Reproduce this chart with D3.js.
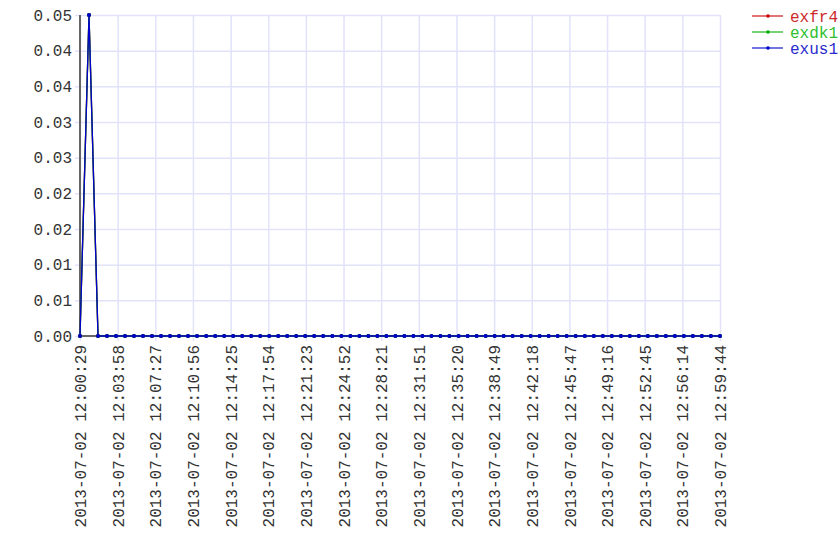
<!DOCTYPE html>
<html>
<head>
<meta charset="utf-8">
<script src="https://cdn.jsdelivr.net/npm/d3@7"></script>
<style>
  html, body { margin: 0; padding: 0; background: #fff; }
  svg { display: block; }
  text { font-family: "Liberation Mono", "Courier New", monospace; font-size: 16px; }
</style>
</head>
<body>
<svg id="chart" width="840" height="560"></svg>
<script>
const times = [
  "2013-07-02 12:00:29","2013-07-02 12:01:19","2013-07-02 12:02:09","2013-07-02 12:02:59",
  "2013-07-02 12:03:49","2013-07-02 12:04:39","2013-07-02 12:05:29","2013-07-02 12:06:19",
  "2013-07-02 12:07:09","2013-07-02 12:07:59","2013-07-02 12:08:49","2013-07-02 12:09:39",
  "2013-07-02 12:10:29","2013-07-02 12:11:19","2013-07-02 12:12:10","2013-07-02 12:13:00",
  "2013-07-02 12:13:50","2013-07-02 12:14:40","2013-07-02 12:15:30","2013-07-02 12:16:20",
  "2013-07-02 12:17:10","2013-07-02 12:18:00","2013-07-02 12:18:50","2013-07-02 12:19:40",
  "2013-07-02 12:20:30","2013-07-02 12:21:20","2013-07-02 12:22:10","2013-07-02 12:23:00",
  "2013-07-02 12:23:51","2013-07-02 12:24:41","2013-07-02 12:25:31","2013-07-02 12:26:21",
  "2013-07-02 12:27:11","2013-07-02 12:28:01","2013-07-02 12:28:51","2013-07-02 12:29:41",
  "2013-07-02 12:30:31","2013-07-02 12:31:21","2013-07-02 12:32:11","2013-07-02 12:33:01",
  "2013-07-02 12:33:51","2013-07-02 12:34:41","2013-07-02 12:35:32","2013-07-02 12:36:22",
  "2013-07-02 12:37:12","2013-07-02 12:38:02","2013-07-02 12:38:52","2013-07-02 12:39:42",
  "2013-07-02 12:40:32","2013-07-02 12:41:22","2013-07-02 12:42:12","2013-07-02 12:43:02",
  "2013-07-02 12:43:52","2013-07-02 12:44:42","2013-07-02 12:45:32","2013-07-02 12:46:22",
  "2013-07-02 12:47:13","2013-07-02 12:48:03","2013-07-02 12:48:53","2013-07-02 12:49:43",
  "2013-07-02 12:50:33","2013-07-02 12:51:23","2013-07-02 12:52:13","2013-07-02 12:53:03",
  "2013-07-02 12:53:53","2013-07-02 12:54:43","2013-07-02 12:55:33","2013-07-02 12:56:23",
  "2013-07-02 12:57:13","2013-07-02 12:58:03","2013-07-02 12:58:53","2013-07-02 12:59:44"
];

const exfr4 = [0,0.05,0,0,0,0,0,0,0,0,0,0,0,0,0,0,0,0,0,0,0,0,0,0,0,0,0,0,0,0,0,0,0,0,0,0,
               0,0,0,0,0,0,0,0,0,0,0,0,0,0,0,0,0,0,0,0,0,0,0,0,0,0,0,0,0,0,0,0,0,0,0,0];
const exdk1 = [0,0.05,0,0,0,0,0,0,0,0,0,0,0,0,0,0,0,0,0,0,0,0,0,0,0,0,0,0,0,0,0,0,0,0,0,0,
               0,0,0,0,0,0,0,0,0,0,0,0,0,0,0,0,0,0,0,0,0,0,0,0,0,0,0,0,0,0,0,0,0,0,0,0];
const exus1 = [0,0.05,0,0,0,0,0,0,0,0,0,0,0,0,0,0,0,0,0,0,0,0,0,0,0,0,0,0,0,0,0,0,0,0,0,0,
               0,0,0,0,0,0,0,0,0,0,0,0,0,0,0,0,0,0,0,0,0,0,0,0,0,0,0,0,0,0,0,0,0,0,0,0];

const seriesNames = ["exfr4", "exdk1", "exus1"];
const yTickLabels = ["0.00","0.01","0.01","0.02","0.02","0.03","0.03","0.04","0.04","0.05"];
const xTickLabels = [
  "2013-07-02 12:00:29","2013-07-02 12:03:58","2013-07-02 12:07:27","2013-07-02 12:10:56",
  "2013-07-02 12:14:25","2013-07-02 12:17:54","2013-07-02 12:21:23","2013-07-02 12:24:52",
  "2013-07-02 12:28:21","2013-07-02 12:31:51","2013-07-02 12:35:20","2013-07-02 12:38:49",
  "2013-07-02 12:42:18","2013-07-02 12:45:47","2013-07-02 12:49:16","2013-07-02 12:52:45",
  "2013-07-02 12:56:14","2013-07-02 12:59:44"
];

const lineColors = { exfr4: "#cc0000", exdk1: "#00b000", exus1: "#0000cc" };
const textColors = { exfr4: "#cc2a2a", exdk1: "#2fbf2f", exus1: "#2a2acc" };

const parse = d3.timeParse("%Y-%m-%d %H:%M:%S");
const dates = times.map(parse);
const seriesData = { exfr4, exdk1, exus1 };

const margin = { left: 80, right: 120, top: 15, bottom: 224 };
const W = 840, H = 560;
const x0 = margin.left, x1 = W - margin.right;
const y0 = H - margin.bottom, y1 = margin.top;

const svg = d3.select("#chart");

const x = d3.scaleTime().domain([dates[0], dates[dates.length - 1]]).range([x0, x1]);
const y = d3.scaleLinear().domain([0, 0.05]).range([y0, y1]);

const t0 = dates[0].getTime(), tN = dates[dates.length - 1].getTime();
const xTicks = xTickLabels.map((_, i) => new Date(t0 + i * (tN - t0) / (xTickLabels.length - 1)));
const yTicks = yTickLabels.map((_, i) => i * 0.05 / (yTickLabels.length - 1));

const gridColor = "#e2e2fb";

// horizontal grid + y labels
const yAxis = d3.axisLeft(y).tickValues(yTicks)
  .tickFormat((d, i) => yTickLabels[i])
  .tickSize(-(x1 - x0 + 5)).tickPadding(3);
const gy = svg.append("g").attr("transform", `translate(${x0 - 5},0)`).call(yAxis);
gy.select(".domain").remove();
gy.selectAll(".tick line").attr("stroke", gridColor).attr("stroke-width", 1.5)
  .attr("x1", 0).attr("x2", x1 - x0 + 5);
gy.selectAll(".tick text").attr("fill", "#333").attr("x", -3)
  .style("font-family", '"Liberation Mono", "Courier New", monospace').style("font-size", "16px");

// vertical grid + x labels
const xAxis = d3.axisBottom(x).tickValues(xTicks)
  .tickFormat((d, i) => xTickLabels[i]).tickSize(0);
const gx = svg.append("g").attr("transform", `translate(0,${y1})`).call(xAxis);
gx.select(".domain").remove();
gx.selectAll(".tick line").attr("stroke", gridColor).attr("stroke-width", 1.5)
  .attr("y1", 0).attr("y2", y0 - y1 + 5);
gx.selectAll(".tick text")
  .attr("fill", "#333")
  .attr("text-anchor", "end")
  .attr("transform", `translate(0,${y0 - y1 + 9}) rotate(-90)`)
  .attr("x", 0).attr("y", 0).attr("dy", "0.35em")
  .style("font-family", '"Liberation Mono", "Courier New", monospace').style("font-size", "16px");

// axis lines
svg.append("line").attr("x1", x0).attr("x2", x0).attr("y1", y1).attr("y2", y0)
  .attr("stroke", "#666").attr("stroke-width", 2);
svg.append("line").attr("x1", x0).attr("x2", x1).attr("y1", y0).attr("y2", y0)
  .attr("stroke", "#666").attr("stroke-width", 2);

// series
const line = d3.line().x((d, i) => x(dates[i])).y(d => y(d));
seriesNames.forEach(name => {
  const vals = seriesData[name];
  svg.append("path").datum(vals)
    .attr("fill", "none").attr("stroke", lineColors[name]).attr("stroke-width", 1.3)
    .attr("d", line);
  svg.append("g").selectAll("circle").data(vals).join("circle")
    .attr("cx", (d, i) => x(dates[i])).attr("cy", d => y(d)).attr("r", 2)
    .attr("fill", lineColors[name]);
});

// legend
const lg = svg.append("g");
seriesNames.forEach((name, i) => {
  const ly = 16 + i * 16;
  lg.append("line").attr("x1", 752).attr("x2", 783).attr("y1", ly).attr("y2", ly)
    .attr("stroke", lineColors[name]).attr("stroke-opacity", 0.55).attr("stroke-width", 2);
  lg.append("circle").attr("cx", 768).attr("cy", ly).attr("r", 1.8).attr("fill", lineColors[name]);
  lg.append("text").attr("x", 790).attr("y", ly).attr("dy", "0.35em")
    .attr("fill", textColors[name]).text(name);
});
</script>
</body>
</html>
